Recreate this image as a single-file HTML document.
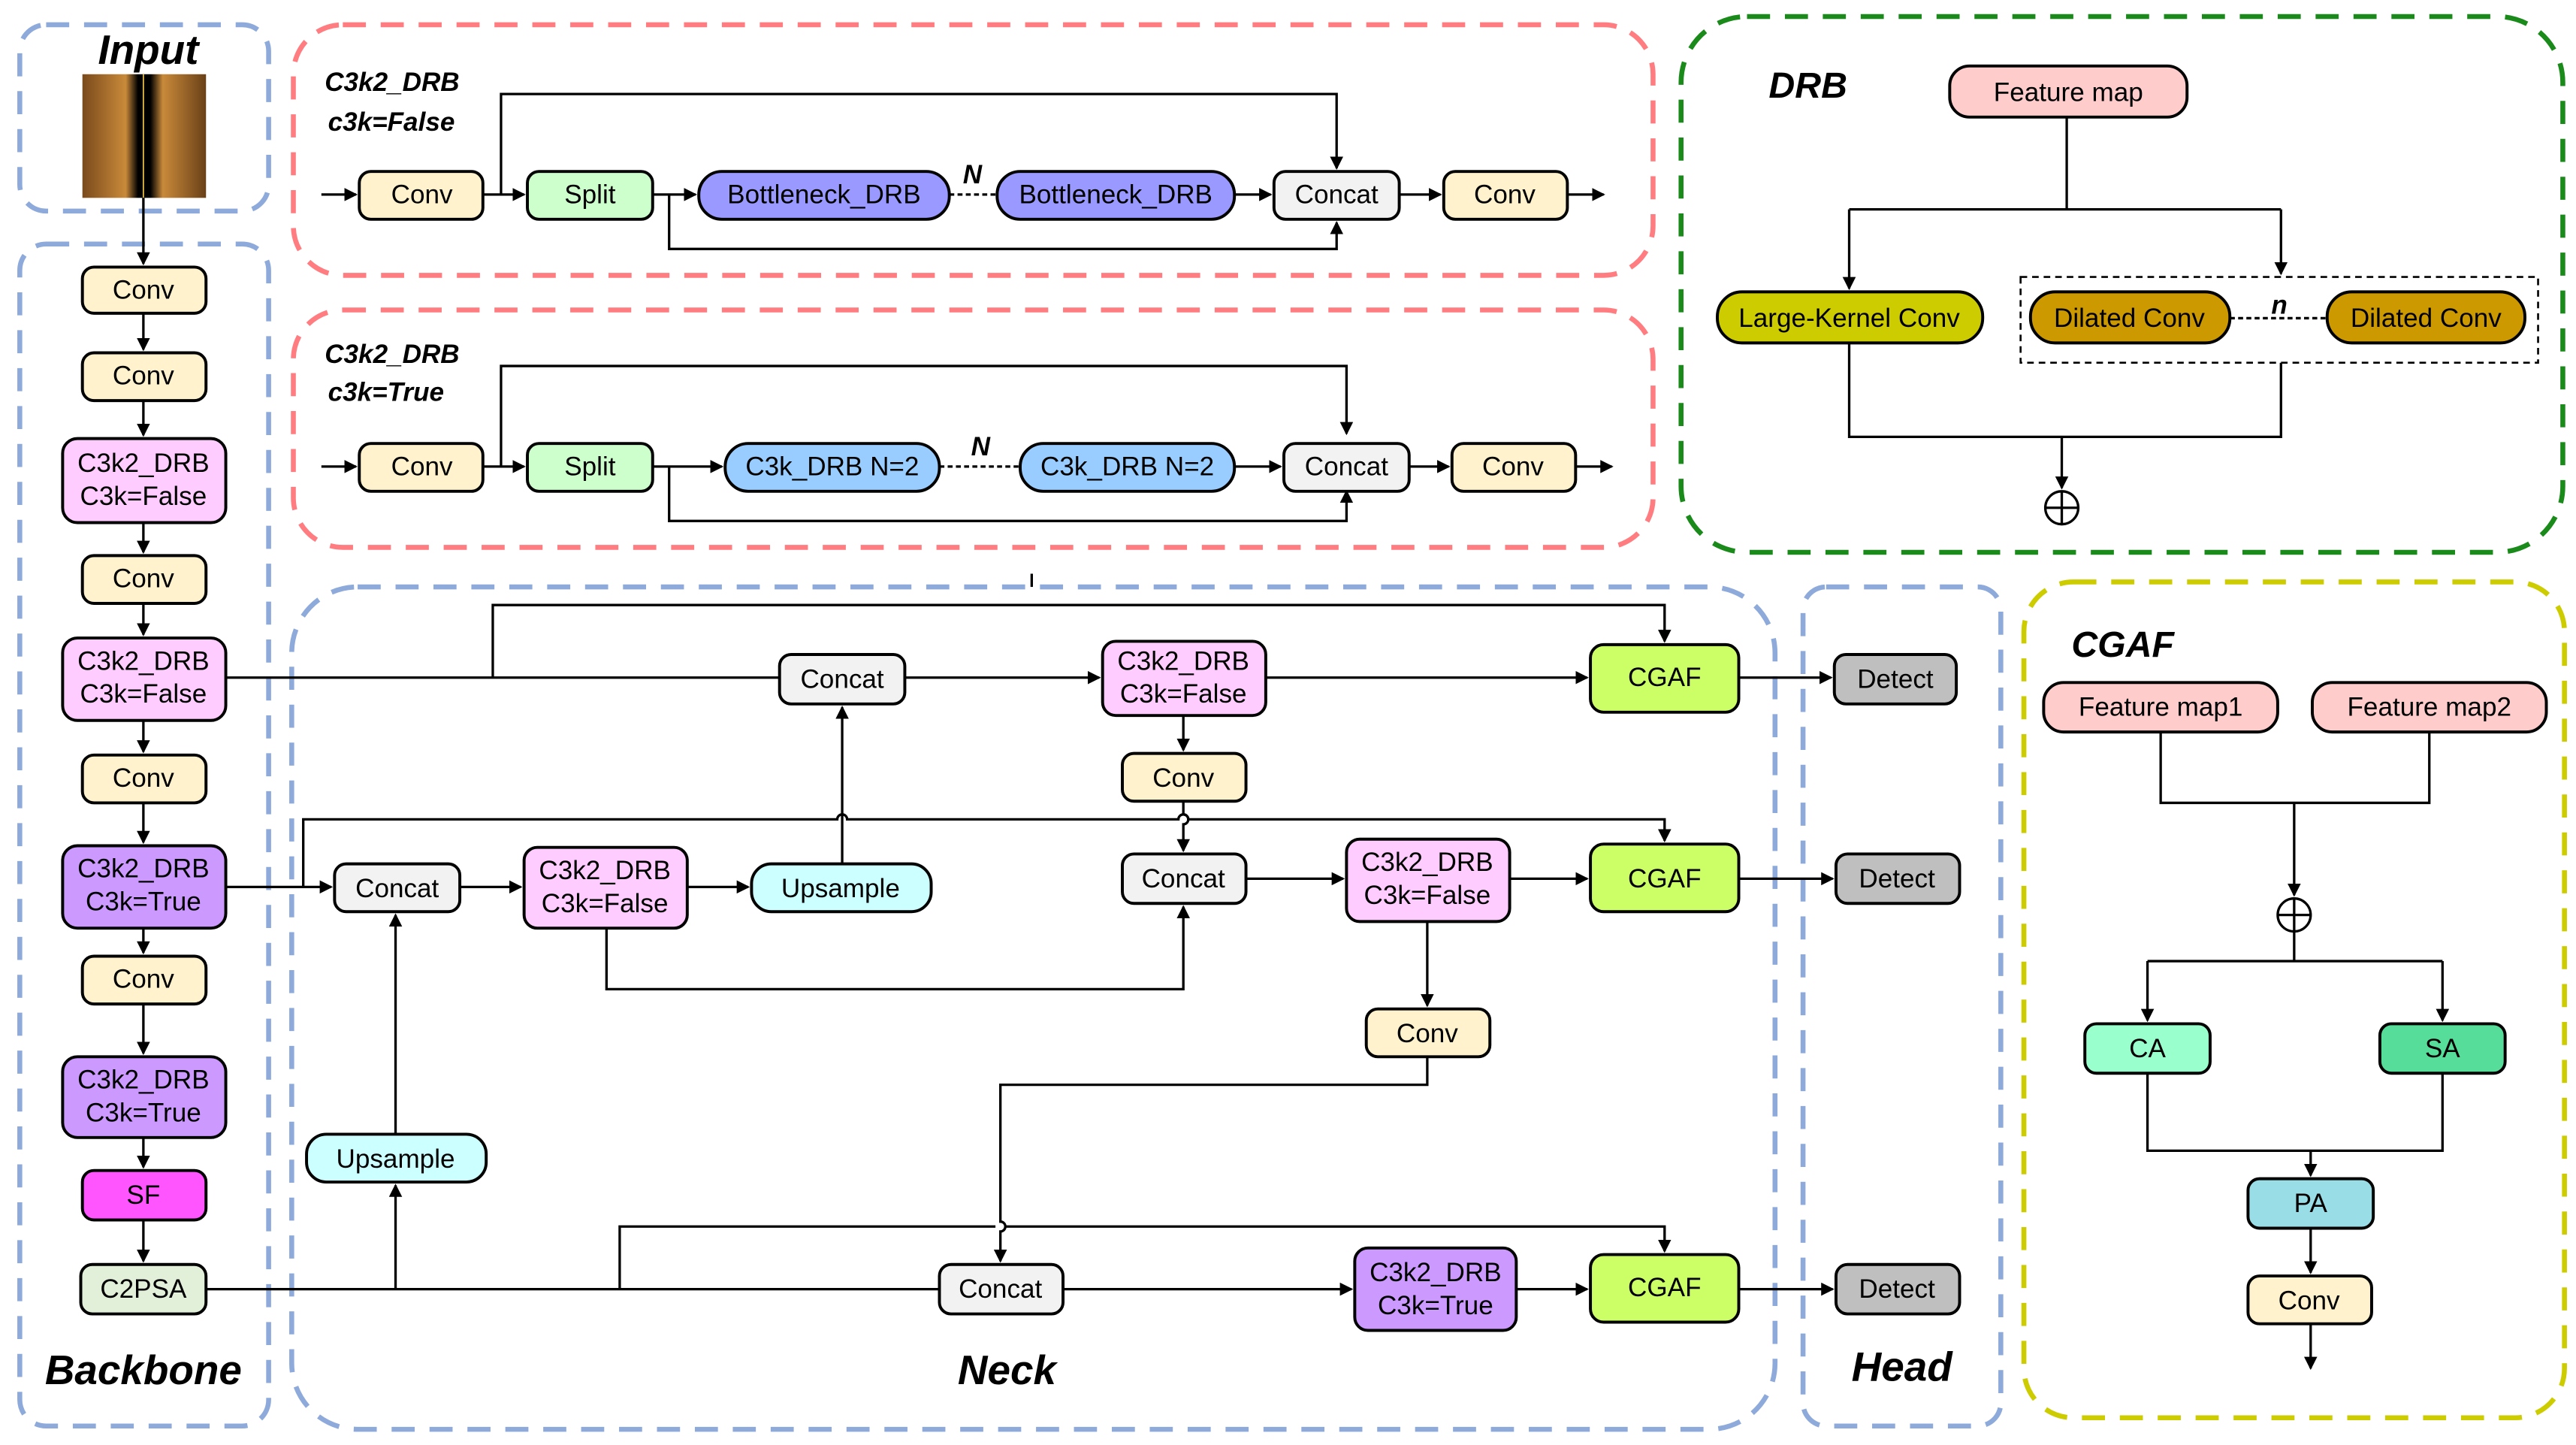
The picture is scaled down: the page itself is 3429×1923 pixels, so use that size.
<!DOCTYPE html>
<html><head><meta charset="utf-8"><style>html,body{margin:0;padding:0;background:#fff}svg{display:block}
text{font-family:"Liberation Sans",sans-serif;font-size:16px;text-anchor:middle;dominant-baseline:central;fill:#000}
.t{font-weight:bold;font-style:italic;font-size:25px}
.s{font-weight:bold;font-style:italic;font-size:16px;text-anchor:start}
.n{stroke:#000;stroke-width:1.8}
.l{fill:none;stroke:#000;stroke-width:1.5}
</style></head><body>
<svg width="3429" height="1923" viewBox="0 0 1563 876.5" xmlns="http://www.w3.org/2000/svg">
<defs><marker id="a" markerWidth="8" markerHeight="8" refX="7" refY="4" orient="auto" markerUnits="userSpaceOnUse"><path d="M0,0 L8,4 L0,8z" fill="#000"/></marker>
<linearGradient id="img" x1="0" x2="1"><stop offset="0" stop-color="#7a4a1c"/><stop offset="0.35" stop-color="#c98a3a"/><stop offset="0.45" stop-color="#000"/><stop offset="0.55" stop-color="#000"/><stop offset="0.65" stop-color="#c98a3a"/><stop offset="1" stop-color="#6a4018"/></linearGradient></defs>
<g fill="none" stroke-width="3" stroke-dasharray="14,9">
<rect x="12" y="15" width="151" height="113" rx="16" stroke="#8eaadb"/>
<rect x="12" y="148" width="151" height="717" rx="16" stroke="#8eaadb"/>
<rect x="178" y="15" width="825" height="152" rx="30" stroke="#ff7c80"/>
<rect x="178" y="188" width="825" height="144" rx="30" stroke="#ff7c80"/>
<rect x="1020" y="10" width="535" height="325" rx="40" stroke="#1a8a1a"/>
<rect x="177" y="356" width="900" height="511" rx="40" stroke="#8eaadb"/>
<rect x="1094" y="356" width="120" height="509" rx="14" stroke="#8eaadb"/>
<rect x="1228" y="353" width="328" height="507" rx="30" stroke="#cccc00"/>
</g>
<text class="t" x="90" y="30">Input</text>
<text class="t" x="87" y="831">Backbone</text>
<text class="t" x="611" y="831">Neck</text>
<text class="t" x="1154" y="829">Head</text>
<text class="t" x="1097" y="52" style="font-size:22px">DRB</text>
<text class="t" x="1288" y="391" style="font-size:22px">CGAF</text>
<text class="s" x="197" y="50">C3k2_DRB</text><text class="s" x="199" y="74">c3k=False</text>
<text class="s" x="197" y="215">C3k2_DRB</text><text class="s" x="199" y="238">c3k=True</text>
<rect x="50" y="45" width="75" height="75" fill="url(#img)"/>
<line x1="87" y1="45" x2="87" y2="120" stroke="#e8c040" stroke-width="0.8"/>
<!-- lines -->
<g class="l">
<path d="M87 120V160" marker-end="url(#a)"/>
<path d="M87 190V212" marker-end="url(#a)"/><path d="M87 243V264" marker-end="url(#a)"/>
<path d="M87 317V335" marker-end="url(#a)"/><path d="M87 366V385" marker-end="url(#a)"/>
<path d="M87 437V456" marker-end="url(#a)"/><path d="M87 487V511" marker-end="url(#a)"/>
<path d="M87 563V578" marker-end="url(#a)"/><path d="M87 609V639" marker-end="url(#a)"/>
<path d="M87 690V708" marker-end="url(#a)"/><path d="M87 740V765" marker-end="url(#a)"/>
<!-- red box1 -->
<path d="M195 118H216" marker-end="url(#a)"/><path d="M293 118H318" marker-end="url(#a)"/>
<path d="M304 118V57H811V102" marker-end="url(#a)"/>
<path d="M396 118H422" marker-end="url(#a)"/><path d="M406 118V151H811V135" marker-end="url(#a)"/>
<path d="M576 118H605" stroke-dasharray="3,2"/>
<path d="M749 118H771" marker-end="url(#a)"/><path d="M849 118H874" marker-end="url(#a)"/><path d="M951 118H973" marker-end="url(#a)"/>
<!-- red box2 -->
<path d="M195 283H216" marker-end="url(#a)"/><path d="M293 283H318" marker-end="url(#a)"/>
<path d="M304 283V222H817V263" marker-end="url(#a)"/>
<path d="M396 283H438" marker-end="url(#a)"/><path d="M406 283V316H817V298" marker-end="url(#a)"/>
<path d="M570 283H619" stroke-dasharray="3,2"/>
<path d="M749 283H777" marker-end="url(#a)"/><path d="M855 283H879" marker-end="url(#a)"/><path d="M956 283H978" marker-end="url(#a)"/>
<path d="M626 348V356"/>
<!-- DRB -->
<path d="M1254 71V127M1122 127H1384"/><path d="M1122 127V175" marker-end="url(#a)"/><path d="M1384 127V166" marker-end="url(#a)"/>
<path d="M1353 193H1412" stroke-dasharray="3,2"/>
<path d="M1122 208V265H1384V220"/><path d="M1251 265V296" marker-end="url(#a)"/>
<!-- neck -->
<path d="M137 411H473M299 411V367H1010V389" marker-end="url(#a)"/>
<path d="M549 411H667" marker-end="url(#a)"/><path d="M768 411H963" marker-end="url(#a)"/><path d="M1055 411H1111" marker-end="url(#a)"/>
<path d="M718 434V455" marker-end="url(#a)"/><path d="M718 486V494a3 3 0 0 1 0 6V516" marker-end="url(#a)"/>
<path d="M137 538H201" marker-end="url(#a)"/>
<path d="M184 538V497H508a3 3 0 0 1 6 0H715a3 3 0 0 1 6 0H1010V510" marker-end="url(#a)"/>
<path d="M279 538H316" marker-end="url(#a)"/><path d="M417 538H454" marker-end="url(#a)"/>
<path d="M511 524V429" marker-end="url(#a)"/>
<path d="M368 563V600H718V550" marker-end="url(#a)"/>
<path d="M756 533H815" marker-end="url(#a)"/><path d="M916 533H963" marker-end="url(#a)"/><path d="M1055 533H1112" marker-end="url(#a)"/>
<path d="M866 559V610" marker-end="url(#a)"/>
<path d="M866 641V658H607V741a3 3 0 0 1 0 6V765" marker-end="url(#a)"/>
<path d="M125 782H570"/><path d="M240 782V719" marker-end="url(#a)"/><path d="M240 688V555" marker-end="url(#a)"/>
<path d="M376 782V744H604M610 744H1010V759" marker-end="url(#a)"/>
<path d="M645 782H820" marker-end="url(#a)"/><path d="M920 782H963" marker-end="url(#a)"/><path d="M1055 782H1112" marker-end="url(#a)"/>
<!-- CGAF -->
<path d="M1311 444V487H1474V444"/><path d="M1392 487V543" marker-end="url(#a)"/>
<path d="M1392 565V583"/><path d="M1303 583H1482"/><path d="M1303 583V619" marker-end="url(#a)"/><path d="M1482 583V619" marker-end="url(#a)"/>
<path d="M1303 651V698H1482V651"/><path d="M1402 698V713" marker-end="url(#a)"/>
<path d="M1402 745V772" marker-end="url(#a)"/><path d="M1402 803V830" marker-end="url(#a)"/>
</g>
<rect x="1226" y="168" width="314" height="52" fill="none" stroke="#000" stroke-width="1.2" stroke-dasharray="4,3"/>
<g class="l"><circle cx="1251" cy="308" r="10"/><path d="M1241 308H1261M1251 298V318"/><circle cx="1392" cy="555" r="10"/><path d="M1382 555H1402M1392 545V565"/></g>
<text x="590" y="106" class="s" style="text-anchor:middle">N</text>
<text x="595" y="271" class="s" style="text-anchor:middle">N</text>
<text x="1383" y="185" class="s" style="text-anchor:middle">n</text>
<!-- nodes -->
<g class="n">
<rect x="50" y="162" width="75" height="28" rx="7" fill="#fff2cc"/>
<rect x="50" y="214" width="75" height="29" rx="7" fill="#fff2cc"/>
<rect x="38" y="266" width="99" height="51" rx="9" fill="#ffccff"/>
<rect x="50" y="337" width="75" height="29" rx="7" fill="#fff2cc"/>
<rect x="38" y="387" width="99" height="50" rx="9" fill="#ffccff"/>
<rect x="50" y="458" width="75" height="29" rx="7" fill="#fff2cc"/>
<rect x="38" y="513" width="99" height="50" rx="9" fill="#cc99ff"/>
<rect x="50" y="580" width="75" height="29" rx="7" fill="#fff2cc"/>
<rect x="38" y="641" width="99" height="49" rx="9" fill="#cc99ff"/>
<rect x="50" y="710" width="75" height="30" rx="7" fill="#ff55ff"/>
<rect x="49" y="767" width="76" height="30" rx="7" fill="#e2f0d9"/>
<rect x="218" y="104" width="75" height="29" rx="7" fill="#fff2cc"/>
<rect x="320" y="104" width="76" height="29" rx="7" fill="#ccffcc"/>
<rect x="424" y="104" width="152" height="29" rx="14" fill="#9999ff"/>
<rect x="605" y="104" width="144" height="29" rx="14" fill="#9999ff"/>
<rect x="773" y="104" width="76" height="29" rx="7" fill="#f2f2f2"/>
<rect x="876" y="104" width="75" height="29" rx="7" fill="#fff2cc"/>
<rect x="218" y="269" width="75" height="29" rx="7" fill="#fff2cc"/>
<rect x="320" y="269" width="76" height="29" rx="7" fill="#ccffcc"/>
<rect x="440" y="269" width="130" height="29" rx="14" fill="#99ccff"/>
<rect x="619" y="269" width="130" height="29" rx="14" fill="#99ccff"/>
<rect x="779" y="269" width="76" height="29" rx="7" fill="#f2f2f2"/>
<rect x="881" y="269" width="75" height="29" rx="7" fill="#fff2cc"/>
<rect x="1183" y="40" width="144" height="31" rx="12" fill="#ffcccc"/>
<rect x="1042" y="177" width="161" height="31" rx="15" fill="#cccc00"/>
<rect x="1232" y="177" width="121" height="31" rx="15" fill="#cc9900"/>
<rect x="1412" y="177" width="120" height="31" rx="15" fill="#cc9900"/>
<rect x="473" y="397" width="76" height="30" rx="7" fill="#f2f2f2"/>
<rect x="669" y="389" width="99" height="45" rx="8" fill="#ffccff"/>
<rect x="965" y="391" width="90" height="41" rx="8" fill="#ccff66"/>
<rect x="1113" y="397" width="74" height="30" rx="7" fill="#bfbfbf"/>
<rect x="681" y="457" width="75" height="29" rx="7" fill="#fff2cc"/>
<rect x="203" y="524" width="76" height="29" rx="7" fill="#f2f2f2"/>
<rect x="318" y="514" width="99" height="49" rx="8" fill="#ffccff"/>
<rect x="456" y="524" width="109" height="29" rx="12" fill="#ccffff"/>
<rect x="681" y="518" width="75" height="30" rx="7" fill="#f2f2f2"/>
<rect x="817" y="509" width="99" height="50" rx="8" fill="#ffccff"/>
<rect x="965" y="512" width="90" height="41" rx="8" fill="#ccff66"/>
<rect x="1114" y="518" width="75" height="30" rx="7" fill="#bfbfbf"/>
<rect x="829" y="612" width="75" height="29" rx="7" fill="#fff2cc"/>
<rect x="186" y="688" width="109" height="29" rx="12" fill="#ccffff"/>
<rect x="570" y="767" width="75" height="30" rx="7" fill="#f2f2f2"/>
<rect x="822" y="757" width="98" height="50" rx="8" fill="#cc99ff"/>
<rect x="965" y="761" width="90" height="41" rx="8" fill="#ccff66"/>
<rect x="1114" y="767" width="75" height="30" rx="7" fill="#bfbfbf"/>
<rect x="1240" y="414" width="142" height="30" rx="12" fill="#ffcccc"/>
<rect x="1403" y="414" width="142" height="30" rx="12" fill="#ffcccc"/>
<rect x="1265" y="621" width="76" height="30" rx="7" fill="#99ffcc"/>
<rect x="1444" y="621" width="76" height="30" rx="7" fill="#55dd99"/>
<rect x="1364" y="715" width="76" height="30" rx="7" fill="#99dde6"/>
<rect x="1364" y="774" width="75" height="29" rx="7" fill="#fff2cc"/>
</g>
<g>
<text x="87" y="176">Conv</text><text x="87" y="228">Conv</text>
<text x="87" y="281">C3k2_DRB</text><text x="87" y="301">C3k=False</text>
<text x="87" y="351">Conv</text>
<text x="87" y="401">C3k2_DRB</text><text x="87" y="421">C3k=False</text>
<text x="87" y="472">Conv</text>
<text x="87" y="527">C3k2_DRB</text><text x="87" y="547">C3k=True</text>
<text x="87" y="594">Conv</text>
<text x="87" y="655">C3k2_DRB</text><text x="87" y="675">C3k=True</text>
<text x="87" y="725">SF</text><text x="87" y="782">C2PSA</text>
<text x="256" y="118">Conv</text><text x="358" y="118">Split</text><text x="500" y="118">Bottleneck_DRB</text><text x="677" y="118">Bottleneck_DRB</text><text x="811" y="118">Concat</text><text x="913" y="118">Conv</text>
<text x="256" y="283">Conv</text><text x="358" y="283">Split</text><text x="505" y="283">C3k_DRB N=2</text><text x="684" y="283">C3k_DRB N=2</text><text x="817" y="283">Concat</text><text x="918" y="283">Conv</text>
<text x="1255" y="56">Feature map</text><text x="1122" y="193">Large-Kernel Conv</text><text x="1292" y="193">Dilated Conv</text><text x="1472" y="193">Dilated Conv</text>
<text x="511" y="412">Concat</text><text x="718" y="401">C3k2_DRB</text><text x="718" y="421">C3k=False</text><text x="1010" y="411">CGAF</text><text x="1150" y="412">Detect</text>
<text x="718" y="472">Conv</text><text x="241" y="539">Concat</text><text x="367" y="528">C3k2_DRB</text><text x="367" y="548">C3k=False</text><text x="510" y="539">Upsample</text>
<text x="718" y="533">Concat</text><text x="866" y="523">C3k2_DRB</text><text x="866" y="543">C3k=False</text><text x="1010" y="533">CGAF</text><text x="1151" y="533">Detect</text>
<text x="866" y="627">Conv</text><text x="240" y="703">Upsample</text><text x="607" y="782">Concat</text>
<text x="871" y="772">C3k2_DRB</text><text x="871" y="792">C3k=True</text><text x="1010" y="781">CGAF</text><text x="1151" y="782">Detect</text>
<text x="1311" y="429">Feature map1</text><text x="1474" y="429">Feature map2</text>
<text x="1303" y="636">CA</text><text x="1482" y="636">SA</text><text x="1402" y="730">PA</text><text x="1401" y="789">Conv</text>
</g>
</svg>
</body></html>
